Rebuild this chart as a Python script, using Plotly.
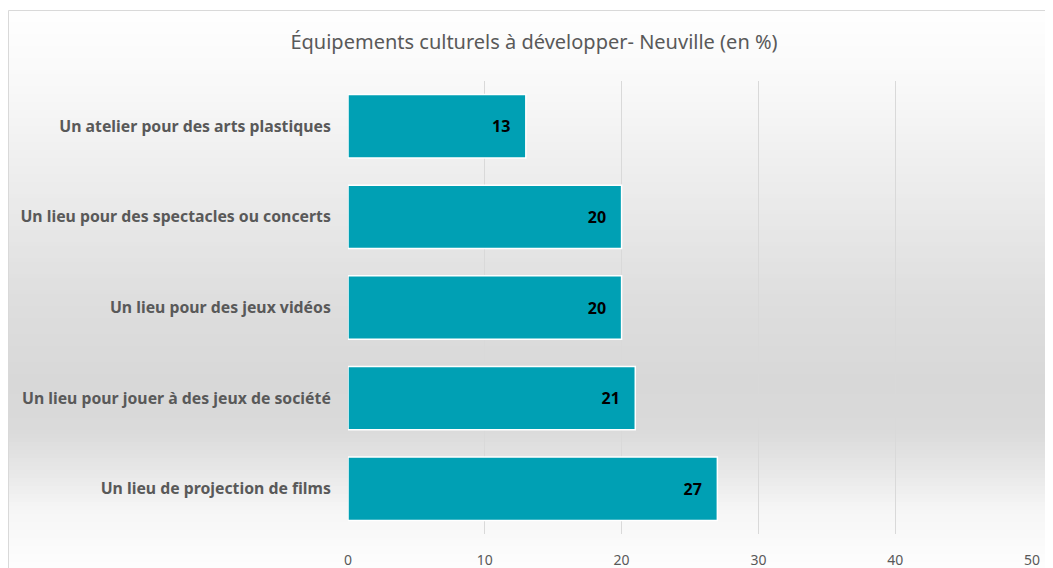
import plotly.graph_objects as go

categories = [
    "Un lieu de projection de films",
    "Un lieu pour jouer à des jeux de société",
    "Un lieu pour des jeux vidéos",
    "Un lieu pour des spectacles ou concerts",
    "Un atelier pour des arts plastiques",
]
values = [27, 21, 20, 20, 13]
x_ticks = [0, 10, 20, 30, 40, 50]

# page is rendered with an 8px body offset: work in figure pixels = page - 8
OFF = 8
W, H = 1045, 560
L, T = 348 - OFF, 81 - OFF
R = W - (1032 - OFF)
B = H - (534 - OFF)
PW, PH = W - L - R, H - T - B

def px_x(px):  # page pixel -> paper
    return (px - OFF - L) / PW

def px_y(py):
    return (H - B - (py - OFF)) / PH

# background gradient (vertical) inside the chart frame
stops = [(0, 255), (80, 249), (180, 237), (300, 222), (380, 216), (430, 218),
         (470, 231), (510, 246), (580, 255)]

def grey_at(y):
    for (y0, g0), (y1, g1) in zip(stops, stops[1:]):
        if y0 <= y <= y1:
            t = (y - y0) / (y1 - y0)
            return g0 + (g1 - g0) * t
    return 255

shapes = []
step = 4
y = 10
while y < H + OFF:
    g = int(round(grey_at(y + step / 2)))
    shapes.append(dict(type="rect", xref="paper", yref="paper",
                       x0=px_x(OFF), x1=px_x(1050), y0=px_y(y + step + 0.5), y1=px_y(y),
                       fillcolor=f"rgb({g},{g},{g})", line=dict(width=0), layer="below"))
    y += step

# frame border
shapes.append(dict(type="rect", xref="paper", yref="paper",
                   x0=px_x(OFF + 0.5), x1=px_x(1049.5), y0=px_y(H + 30), y1=px_y(10.5),
                   fillcolor="rgba(0,0,0,0)", line=dict(color="#d9d9d9", width=1), layer="below"))

fig = go.Figure()
fig.add_trace(go.Bar(
    y=categories, x=values, orientation="h",
    marker=dict(color="#00a0b4", line=dict(color="#ffffff", width=1.5)),
    text=[f"{v}\u00a0\u00a0\u00a0" for v in values],
    textposition="inside", insidetextanchor="end",
    textfont=dict(family="Noto Sans", size=16, color="#000000", weight="bold"),
    constraintext="none",
    hoverinfo="skip",
))

fig.update_layout(
    width=W, height=H,
    margin=dict(l=L, r=R, t=T, b=B, pad=0, autoexpand=False),
    paper_bgcolor="#ffffff",
    plot_bgcolor="rgba(0,0,0,0)",
    bargap=0.3,
    showlegend=False,
    shapes=shapes,
    title=dict(text="Équipements culturels à développer- Neuville (en %)",
               x=(534 - OFF) / W, xanchor="center", y=1 - (42 - OFF) / H, yanchor="middle",
               font=dict(family="Noto Sans", size=20, color="#595959")),
    xaxis=dict(range=[0, 50], tickvals=x_ticks, showgrid=True, automargin=False,
               gridcolor="#d9d9d9", gridwidth=1, zeroline=False,
               showline=False, ticks="outside", ticklen=13, tickcolor="rgba(0,0,0,0)",
               tickfont=dict(family="Noto Sans", size=14, color="#595959")),
    yaxis=dict(showgrid=False, zeroline=False, showline=False, automargin=False,
               ticks="outside", ticklen=13, tickcolor="rgba(0,0,0,0)",
               tickfont=dict(family="Noto Sans", size=15.8, color="#595959", weight="bold")),
)

fig.write_html("out.html")
